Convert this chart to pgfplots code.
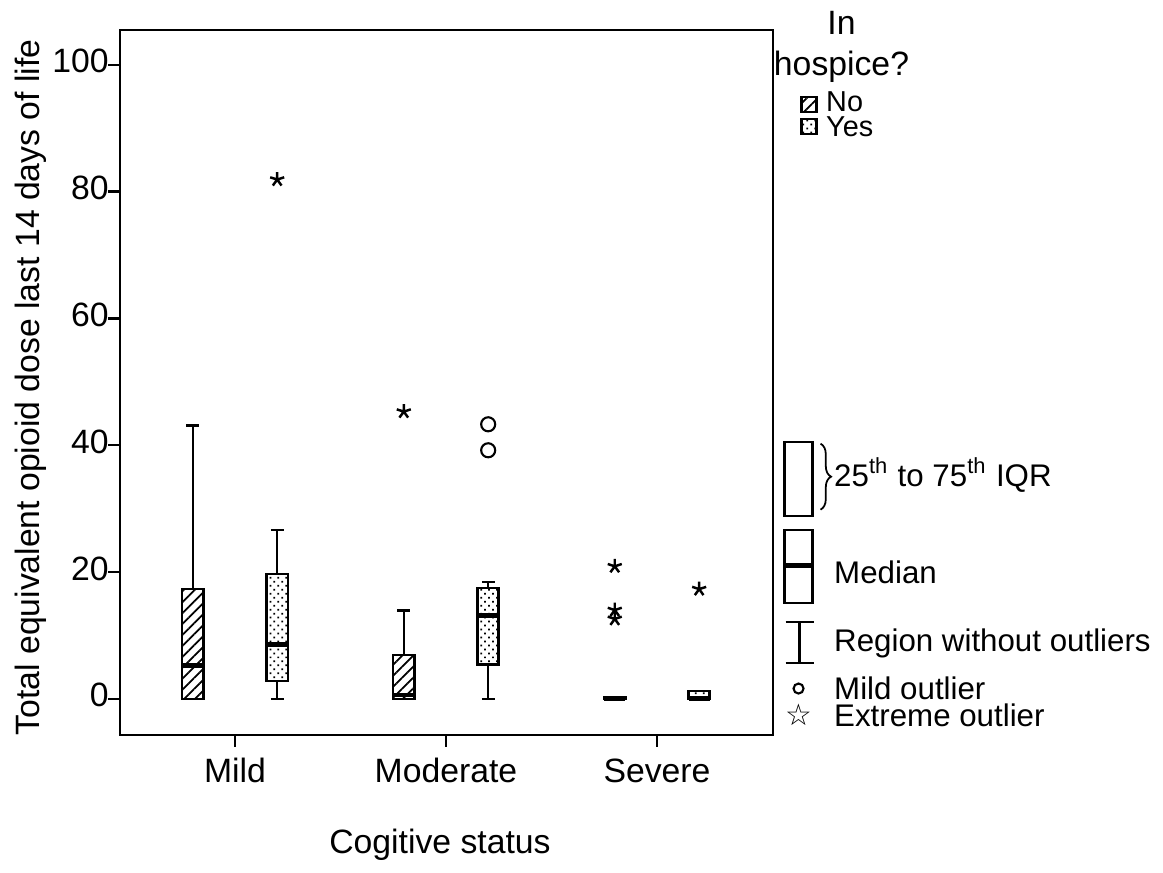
\documentclass[border=0pt]{standalone}
\usepackage{fontspec}
\setmainfont{Liberation Sans}
\newfontfamily\dejavu{DejaVu Sans}
\usepackage{pgfplots}
\pgfplotsset{compat=1.18}
\usepgfplotslibrary{statistics}
\usetikzlibrary{patterns.meta, decorations.pathreplacing}

\tikzset{
  nohatch/.style={pattern={Lines[angle=45,distance=2.2pt,line width=0.5pt]}},
  yesdots/.style={pattern={Dots[angle=45,distance=1.6pt,radius=0.35pt]}},
  keytext/.style={anchor=base west, inner sep=0, font=\fontsize{8.9}{10}\selectfont},
}

\begin{document}
\begin{tikzpicture}[font=\fontsize{9.6}{11.5}\selectfont]
\path (0,0) rectangle (11.63cm,8.63cm);
\begin{axis}[
  at={(1.20cm,1.30cm)}, anchor=south west,
  scale only axis, width=6.53cm, height=7.05cm,
  xmin=0.455, xmax=3.55, ymin=-5.7, ymax=105.5,
  xtick={1,2,3}, xticklabels={Mild,Moderate,Severe},
  ytick={0,20,40,60,80,100},
  tick align=outside, major tick length=0.12cm,
  xtick pos=bottom, ytick pos=left,
  typeset ticklabels with strut,
  yticklabel style={xshift=0.13cm},
  xticklabel style={yshift=0.05cm},
  axis line style={line width=0.7pt},
  tick style={black, line width=0.7pt},
  /pgf/number format/assume math mode=true,
  ylabel={Total equivalent opioid dose last 14 days of life},
  xlabel={Cogitive status},
  every axis y label/.style={at={(axis description cs:-0.137,0.493)}, rotate=90, anchor=center},
  every axis x label/.style={at={(axis description cs:0.49,-0.168)}, anchor=base},
  boxplot/draw direction=y,
  boxplot/box extend=0.1,
  boxplot/whisker extend=0.06,
  boxplot/every box/.style={draw=black, line width=0.7pt},
  boxplot/every whisker/.style={black, line width=0.7pt},
  boxplot/every median/.style={black, line width=1.4pt},
  clip=false,
]
% Mild
\addplot[black, boxplot prepared={draw position=0.8, lower whisker=0, lower quartile=0,
  median=5.2, upper quartile=17.3, upper whisker=43.1},
  boxplot/every box/.append style={nohatch}] coordinates {};
\addplot[black, boxplot prepared={draw position=1.2, lower whisker=0, lower quartile=2.8,
  median=8.5, upper quartile=19.7, upper whisker=26.6},
  boxplot/every box/.append style={yesdots}] coordinates {};
% Moderate
\addplot[black, boxplot prepared={draw position=1.8, lower whisker=0, lower quartile=0,
  median=0.6, upper quartile=6.9, upper whisker=13.9},
  boxplot/every box/.append style={nohatch}] coordinates {};
\addplot[black, boxplot prepared={draw position=2.2, lower whisker=0, lower quartile=5.4,
  median=13.2, upper quartile=17.5, upper whisker=18.4},
  boxplot/every box/.append style={yesdots}] coordinates {};
% Severe
\addplot[black, boxplot prepared={draw position=2.8, lower whisker=0, lower quartile=0,
  median=0, upper quartile=0.2, upper whisker=0.2},
  boxplot/every box/.append style={nohatch}] coordinates {};
\addplot[black, boxplot prepared={draw position=3.2, lower whisker=0, lower quartile=0,
  median=0, upper quartile=1.2, upper whisker=1.2},
  boxplot/every box/.append style={yesdots}] coordinates {};
% extreme outliers
\addplot[only marks, mark=star, mark size=2.1pt, mark options={black, line width=0.7pt}]
  coordinates {(1.2,81.9) (1.8,45.3) (2.8,20.9) (2.8,14.0) (2.8,12.6) (3.2,17.3)};
% mild outliers
\addplot[only marks, mark=o, mark size=2pt, mark options={black, line width=0.6pt}]
  coordinates {(2.2,43.3) (2.2,39.2)};
\end{axis}

% legend and key, in pixel units from the top left
\begin{scope}[yshift=8.63cm, x=0.01cm, y=-0.01cm]
  \node[anchor=base] at (842,33) {In};
  \node[anchor=base] at (842,74) {hospice?};
  \draw[nohatch, line width=0.6pt] (802,95) rectangle (817,110);
  \node[keytext, font=\fontsize{8.2}{9}\selectfont] at (826,110) {No};
  \draw[yesdots, line width=0.6pt] (802,117) rectangle (817,132);
  \node[keytext, font=\fontsize{8.2}{9}\selectfont] at (826,135) {Yes};

  \draw[line width=0.6pt] (785,440) rectangle (813,514);
  \draw[decorate, decoration={brace, amplitude=3pt}, line width=0.5pt] (821,442) -- (821,508);
  \node[keytext] at (834,485) {25\textsuperscript{th} to 75\textsuperscript{th} IQR};

  \draw[line width=0.6pt] (785,528) rectangle (813,601);
  \draw[line width=1.4pt] (785,564) -- (813,564);
  \node[keytext] at (834,582) {Median};

  \draw[line width=0.6pt] (800,620) -- (800,661) (786,620) -- (814,620) (786,661) -- (814,661);
  \node[keytext] at (834,650) {Region without outliers};

  \draw[line width=0.6pt] (799,687) circle[radius=0.05cm];
  \node[keytext] at (834,698) {Mild outlier};

  \node[inner sep=0, font=\fontsize{8.5}{9}\selectfont] at (799,713) {\dejavu\bfseries ☆};
  \node[keytext] at (834,725) {Extreme outlier};
\end{scope}
\end{tikzpicture}
\end{document}
